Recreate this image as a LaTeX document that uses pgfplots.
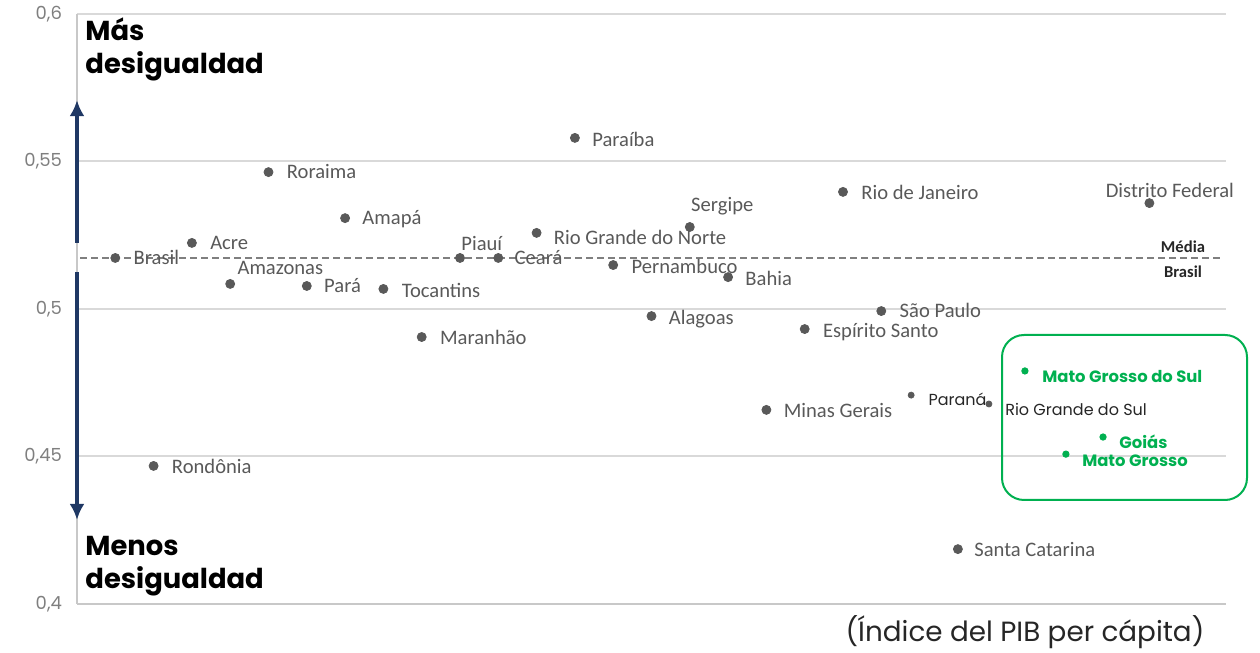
\documentclass[border=0pt]{standalone}
\usepackage{pgfplots}
\pgfplotsset{compat=1.18}
\usepackage{fontspec}
\setmainfont{Carlito}
\newfontfamily\mont{Poppins}
\usetikzlibrary{arrows.meta}

\definecolor{ptgray}{HTML}{595959}
\definecolor{tickc}{HTML}{7F7F7F}
\definecolor{grn}{HTML}{00B050}
\definecolor{navy}{HTML}{1F3864}
\definecolor{gridc}{HTML}{D9D9D9}
\definecolor{axc}{HTML}{C8C8C8}

% label next to a point: [style]{x}{y}{dx px}{dy px}{text}
\newcommand\lbl[6][lab]{\node[#1,anchor=base west,xshift=#4*0.5pt,yshift=#5*0.5pt] at (axis cs:#2,#3) {#6};}

\tikzset{
  lab/.style={font=\fontsize{10.3}{12}\selectfont, text=ptgray, inner sep=0pt},
  labm/.style={font=\mont\fontsize{8}{10}\selectfont, text=black!85, inner sep=0pt},
  labg/.style={font=\mont\bfseries\fontsize{8.2}{10}\selectfont, text=grn, inner sep=0pt},
}

\begin{document}
\begin{tikzpicture}
\useasboundingbox (-38.5pt,-24.5pt) rectangle (591.5pt,302pt);
\begin{axis}[
  at={(0pt,0pt)}, anchor=south west,
  scale only axis, width=574.5pt, height=295pt,
  xmin=0, xmax=30, ymin=0.4, ymax=0.6,
  axis x line*=bottom, axis y line*=left,
  x axis line style={-, draw=axc, line width=1pt},
  y axis line style={-, draw=axc, line width=1pt},
  xtick=\empty,
  ytick={0.4,0.45,0.5,0.55,0.6},
  major tick length=0pt,
  ymajorgrids, major grid style={draw=gridc, line width=1pt},
  yticklabel style={font=\mont\fontsize{9}{10}\selectfont, text=tickc, xshift=-4pt,
    /pgf/number format/.cd, fixed, precision=2, use comma, assume math mode=true},
  clip=false,
]
% media Brasil
\addplot[draw=tickc, line width=0.8pt, dash pattern=on 3.5pt off 2pt] coordinates {(0.08,0.5173) (29.9,0.5173)};

% estados
\addplot[only marks, mark=*, mark size=2.25pt, color=ptgray] table {
x y
1 0.5173
2 0.4468
3 0.5224
4 0.5085
5 0.5464
6 0.5078
7 0.5308
8 0.5068
9 0.4905
10 0.5173
11 0.5173
12 0.5258
13 0.5580
14 0.5149
15 0.4976
16 0.5278
17 0.5108
18 0.4658
19 0.4932
20 0.5397
21 0.4993
23 0.4186
28 0.5359
};
\addplot[only marks, mark=*, mark size=1.5pt, color=ptgray] table {
x y
21.78 0.4708
23.81 0.4678
};
\addplot[only marks, mark=*, mark size=1.6pt, color=grn] table {
x y
24.75 0.4790
26.79 0.4566
25.82 0.4508
};

\lbl{1}{0.5173}{18}{-6.5}{Brasil}
\lbl{2}{0.4468}{18}{-7.5}{Rondônia}
\lbl{3}{0.5224}{18}{-6.5}{Acre}
\lbl{4}{0.5085}{7}{9.5}{Amazonas}
\lbl{5}{0.5464}{18}{-6.5}{Roraima}
\lbl{6}{0.5078}{17}{-6.5}{Pará}
\lbl{7}{0.5308}{17}{-6.5}{Amapá}
\lbl{8}{0.5068}{18}{-8.5}{Tocantins}
\lbl{9}{0.4905}{18}{-7.5}{Maranhão}
\lbl{10}{0.5173}{1}{7.5}{Piauí}
\lbl{11}{0.5173}{16}{-6.5}{Ceará}
\lbl{12}{0.5258}{17}{-11.5}{Rio Grande do Norte}
\lbl{13}{0.5580}{17}{-8.5}{Paraíba}
\lbl{14}{0.5149}{18}{-8.5}{Pernambuco}
\lbl{15}{0.4976}{17}{-8.5}{Alagoas}
\lbl{16}{0.5278}{1}{15.5}{Sergipe}
\lbl{17}{0.5108}{17}{-8.5}{Bahia}
\lbl{18}{0.4658}{17}{-7.5}{Minas Gerais}
\lbl{19}{0.4932}{18}{-8.5}{Espírito Santo}
\lbl{20}{0.5397}{18}{-7.5}{Rio de Janeiro}
\lbl{21}{0.4993}{18}{-6.5}{São Paulo}
\lbl{23}{0.4186}{16}{-7.5}{Santa Catarina}
\lbl{28}{0.5359}{-44}{6}{Distrito Federal}
\lbl[labm]{21.78}{0.4708}{17}{-10.5}{Paraná}
\lbl[labm]{23.81}{0.4678}{16}{-11.5}{Rio Grande do Sul}
\lbl[labg]{24.75}{0.4790}{17}{-12}{Mato Grosso do Sul}
\lbl[labg]{26.79}{0.4566}{16}{-11}{Goiás}
\lbl[labg]{25.82}{0.4508}{16}{-12}{Mato Grosso}

% flechas
\draw[navy, line width=1.6pt, -{Latex[length=8pt,width=7.5pt]}] (axis cs:0,0.5224) -- (axis cs:0,0.5708);
\draw[navy, line width=1.6pt, -{Latex[length=8pt,width=7.5pt]}] (axis cs:0,0.5125) -- (axis cs:0,0.4285);
\end{axis}

% pixel coordinates of the reference
\begin{scope}[x=0.5pt, y=-0.5pt, shift={(-38.5pt,302pt)}]
  \tikzset{big/.style={font=\mont\bfseries\fontsize{13.7}{16}\selectfont, anchor=base west, inner sep=0pt}}
  \node[big] at (85,41) {Más};
  \node[big] at (85,74) {desigualdad};
  \node[big] at (85,556) {Menos};
  \node[big] at (85,589) {desigualdad};
  \node[font=\bfseries\fontsize{8.3}{10}\selectfont, text=black!85, anchor=base, inner sep=0pt] at (1183,253) {Média};
  \node[font=\bfseries\fontsize{8.3}{10}\selectfont, text=black!85, anchor=base, inner sep=0pt] at (1183,278) {Brasil};
  \draw[grn, line width=1pt, rounded corners=11pt] (1002,335) rectangle (1247,500);
  \node[font=\mont\fontsize{13.9}{16}\selectfont, text=black!85, anchor=base, inner sep=0pt] at (1025,642) {(Índice del PIB per cápita)};
\end{scope}
\end{tikzpicture}
\end{document}
